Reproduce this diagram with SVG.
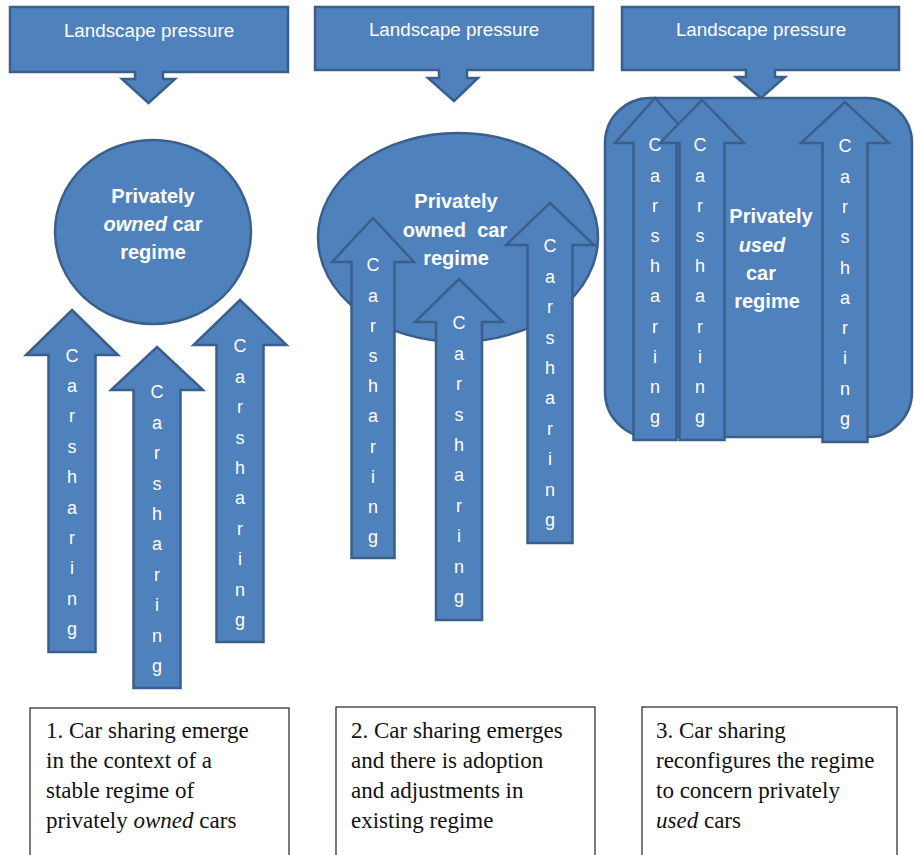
<svg xmlns="http://www.w3.org/2000/svg" width="914" height="855" viewBox="0 0 914 855">
<style>
.shape{fill:#4F81BD;stroke:#3A5F8B;stroke-width:2.5;stroke-linejoin:miter}
.lp{font-family:"Liberation Sans",Arial,sans-serif;font-size:18.8px;fill:#ffffff;text-anchor:middle}
.rg{font-family:"Liberation Sans",Arial,sans-serif;font-size:20px;font-weight:bold;fill:#ffffff;text-anchor:middle}
.v{font-family:"Liberation Sans",Arial,sans-serif;font-size:18px;fill:#ffffff;text-anchor:middle}
.box{fill:#ffffff;stroke:#222222;stroke-width:1.2}
.cap{font-family:"Liberation Serif","Times New Roman",serif;font-size:23px;fill:#111111}
</style>
<rect width="914" height="855" fill="#ffffff"/>

<g id="panel1">
  <g id="landscape1">
    <path class="shape" d="M10,7 H288 V72 H163 V79 H175 L148.5,103 L122,79 H135 V72 H10 Z"/>
    <text class="lp" x="149" y="37">Landscape pressure</text>
  </g>
  <g id="regime1">
    <ellipse class="shape" cx="153" cy="232" rx="98" ry="92"/>
    <text class="rg" x="153" y="203">Privately</text>
    <text class="rg" x="153" y="231"><tspan font-style="italic">owned</tspan> car</text>
    <text class="rg" x="153" y="259">regime</text>
  </g>
  <g id="arrowA">
    <path class="shape" d="M72,310 L118,355 H95.5 V652 H48.5 V355 H26 Z"/>
    <text class="v" y="361.5"><tspan x="72">C</tspan><tspan x="72" dy="30.4">a</tspan><tspan x="72" dy="30.4">r</tspan><tspan x="72" dy="30.4">s</tspan><tspan x="72" dy="30.4">h</tspan><tspan x="72" dy="30.4">a</tspan><tspan x="72" dy="30.4">r</tspan><tspan x="72" dy="30.4">i</tspan><tspan x="72" dy="30.4">n</tspan><tspan x="72" dy="30.4">g</tspan></text>
  </g>
  <g id="arrowB">
    <path class="shape" d="M157,347 L203,390 H180.5 V688 H133.5 V390 H111 Z"/>
    <text class="v" y="398.3"><tspan x="157">C</tspan><tspan x="157" dy="30.4">a</tspan><tspan x="157" dy="30.4">r</tspan><tspan x="157" dy="30.4">s</tspan><tspan x="157" dy="30.4">h</tspan><tspan x="157" dy="30.4">a</tspan><tspan x="157" dy="30.4">r</tspan><tspan x="157" dy="30.4">i</tspan><tspan x="157" dy="30.4">n</tspan><tspan x="157" dy="30.4">g</tspan></text>
  </g>
  <g id="arrowC">
    <path class="shape" d="M240,300 L286.5,345 H263.5 V642 H216.5 V345 H193.5 Z"/>
    <text class="v" y="352.3"><tspan x="240">C</tspan><tspan x="240" dy="30.4">a</tspan><tspan x="240" dy="30.4">r</tspan><tspan x="240" dy="30.4">s</tspan><tspan x="240" dy="30.4">h</tspan><tspan x="240" dy="30.4">a</tspan><tspan x="240" dy="30.4">r</tspan><tspan x="240" dy="30.4">i</tspan><tspan x="240" dy="30.4">n</tspan><tspan x="240" dy="30.4">g</tspan></text>
  </g>
</g>

<g id="panel2">
  <g id="landscape2">
    <path class="shape" d="M315,7 H593 V70 H467 V78 H478 L454,101 L428,78 H439 V70 H315 Z"/>
    <text class="lp" x="454" y="36">Landscape pressure</text>
  </g>
  <g id="regime2">
    <ellipse class="shape" cx="458" cy="237.5" rx="140" ry="104.5"/>
  </g>
  <g id="arrowD">
    <path class="shape" d="M373,218 L414,262 H394.5 V558 H351.5 V262 H332 Z"/>
    <text class="v" y="271.3"><tspan x="373">C</tspan><tspan x="373" dy="30.2">a</tspan><tspan x="373" dy="30.2">r</tspan><tspan x="373" dy="30.2">s</tspan><tspan x="373" dy="30.2">h</tspan><tspan x="373" dy="30.2">a</tspan><tspan x="373" dy="30.2">r</tspan><tspan x="373" dy="30.2">i</tspan><tspan x="373" dy="30.2">n</tspan><tspan x="373" dy="30.2">g</tspan></text>
  </g>
  <g id="arrowE">
    <path class="shape" d="M459,279 L503,322 H482 V620 H436 V322 H415 Z"/>
    <text class="v" y="329.3"><tspan x="459">C</tspan><tspan x="459" dy="30.4">a</tspan><tspan x="459" dy="30.4">r</tspan><tspan x="459" dy="30.4">s</tspan><tspan x="459" dy="30.4">h</tspan><tspan x="459" dy="30.4">a</tspan><tspan x="459" dy="30.4">r</tspan><tspan x="459" dy="30.4">i</tspan><tspan x="459" dy="30.4">n</tspan><tspan x="459" dy="30.4">g</tspan></text>
  </g>
  <g id="arrowF">
    <path class="shape" d="M550,203 L594,245 H572.5 V543 H527.5 V245 H506 Z"/>
    <text class="v" y="252.3"><tspan x="550">C</tspan><tspan x="550" dy="30.4">a</tspan><tspan x="550" dy="30.4">r</tspan><tspan x="550" dy="30.4">s</tspan><tspan x="550" dy="30.4">h</tspan><tspan x="550" dy="30.4">a</tspan><tspan x="550" dy="30.4">r</tspan><tspan x="550" dy="30.4">i</tspan><tspan x="550" dy="30.4">n</tspan><tspan x="550" dy="30.4">g</tspan></text>
  </g>
  <g id="regime2label">
    <text class="rg" x="456" y="208">Privately</text>
    <text class="rg" x="455" y="237" xml:space="preserve">owned  car</text>
    <text class="rg" x="456" y="265">regime</text>
  </g>
</g>

<g id="panel3">
  <g id="regime3">
    <rect class="shape" x="605" y="98" width="307" height="339" rx="45" ry="45"/>
  </g>
  <g id="landscape3">
    <path class="shape" d="M622,7 H899 V70 H775 V77 H785 L761,98 L736,77 H746 V70 H622 Z"/>
    <text class="lp" x="761" y="36">Landscape pressure</text>
  </g>
  <g id="arrowG">
    <path class="shape" d="M655,98 L695,143 H676.5 V440 H633.5 V143 H615 Z"/>
    <text class="v" y="151.3"><tspan x="655">C</tspan><tspan x="655" dy="30.2">a</tspan><tspan x="655" dy="30.2">r</tspan><tspan x="655" dy="30.2">s</tspan><tspan x="655" dy="30.2">h</tspan><tspan x="655" dy="30.2">a</tspan><tspan x="655" dy="30.2">r</tspan><tspan x="655" dy="30.2">i</tspan><tspan x="655" dy="30.2">n</tspan><tspan x="655" dy="30.2">g</tspan></text>
  </g>
  <g id="arrowH">
    <path class="shape" d="M702,100 L744,143 H724.5 V440 H679.5 V143 H660 Z"/>
    <text class="v" y="151.3"><tspan x="700">C</tspan><tspan x="700" dy="30.2">a</tspan><tspan x="700" dy="30.2">r</tspan><tspan x="700" dy="30.2">s</tspan><tspan x="700" dy="30.2">h</tspan><tspan x="700" dy="30.2">a</tspan><tspan x="700" dy="30.2">r</tspan><tspan x="700" dy="30.2">i</tspan><tspan x="700" dy="30.2">n</tspan><tspan x="700" dy="30.2">g</tspan></text>
  </g>
  <g id="arrowI">
    <path class="shape" d="M845,102 L889,143 H867.5 V442 H822.5 V143 H801 Z"/>
    <text class="v" y="152.3"><tspan x="845">C</tspan><tspan x="845" dy="30.3">a</tspan><tspan x="845" dy="30.3">r</tspan><tspan x="845" dy="30.3">s</tspan><tspan x="845" dy="30.3">h</tspan><tspan x="845" dy="30.3">a</tspan><tspan x="845" dy="30.3">r</tspan><tspan x="845" dy="30.3">i</tspan><tspan x="845" dy="30.3">n</tspan><tspan x="845" dy="30.3">g</tspan></text>
  </g>
  <g id="regime3label">
    <text class="rg" x="771" y="223">Privately</text>
    <text class="rg" x="762" y="252" font-style="italic">used</text>
    <text class="rg" x="761" y="280">car</text>
    <text class="rg" x="767" y="308">regime</text>
  </g>
</g>

<g id="caption1">
  <rect class="box" x="30" y="708" width="259" height="160"/>
  <text class="cap" x="46" y="738">1. Car sharing emerge</text>
  <text class="cap" x="46" y="768">in the context of a</text>
  <text class="cap" x="46" y="798">stable regime of</text>
  <text class="cap" x="46" y="828">privately <tspan font-style="italic">owned</tspan> cars</text>
</g>
<g id="caption2">
  <rect class="box" x="336" y="707" width="259" height="160"/>
  <text class="cap" x="351" y="738">2. Car sharing emerges</text>
  <text class="cap" x="351" y="768">and there is adoption</text>
  <text class="cap" x="351" y="798">and adjustments in</text>
  <text class="cap" x="351" y="828">existing regime</text>
</g>
<g id="caption3">
  <rect class="box" x="642" y="707" width="255" height="160"/>
  <text class="cap" x="656" y="738">3. Car sharing</text>
  <text class="cap" x="656" y="768">reconfigures the regime</text>
  <text class="cap" x="656" y="798">to concern privately</text>
  <text class="cap" x="656" y="828"><tspan font-style="italic">used</tspan> cars</text>
</g>

<g id="connectors"></g>
</svg>
